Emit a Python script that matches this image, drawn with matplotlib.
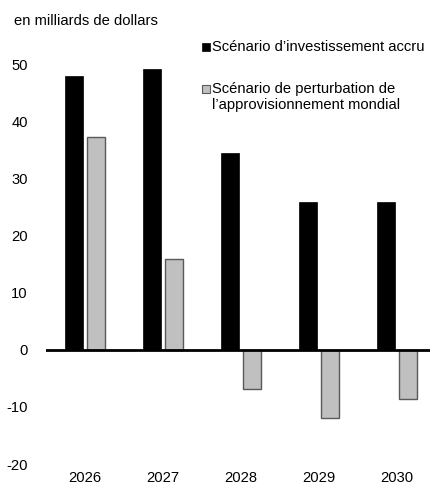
import matplotlib
matplotlib.use("Agg")
import matplotlib.pyplot as plt
from matplotlib.patches import Rectangle
import numpy as np

plt.rcParams['font.family'] = ['Liberation Sans', 'DejaVu Sans']

years = ["2026", "2027", "2028", "2029", "2030"]
investment = [47.9, 49.2, 34.5, 25.8, 25.9]
disruption = [37.3, 15.9, -6.9, -11.9, -8.7]
series_names = ["Scénario d’investissement accru",
                "Scénario de perturbation de",
                "l’approvisionnement mondial"]
yticks = [-20, -10, 0, 10, 20, 30, 40, 50]

W, H = 431, 487
FS = 10.6
fig = plt.figure(figsize=(W / 100, H / 100), dpi=100)
ax = fig.add_axes([46 / W, 23 / H, 385 / W, 400 / H])

x = np.arange(len(years))
w = 0.23
off = 0.141
ax.bar(x - off, investment, width=w, color="black", edgecolor="black", linewidth=0.5)
ax.bar(x + off, disruption, width=w, color="#c0c0c0", edgecolor="#595959", linewidth=1.0)

ax.set_xlim(-0.5, 4.44)
ax.set_ylim(-20, 50)
ax.set_yticks(yticks)
ax.set_yticklabels([str(v) for v in yticks], fontsize=FS)
ax.set_xticks(x)
ax.set_xticklabels(years, fontsize=FS)
ax.tick_params(axis="both", length=0)
ax.tick_params(axis="y", pad=13)
ax.tick_params(axis="x", pad=5)
for s in ax.spines.values():
    s.set_visible(False)
ax.axhline(0, color="black", linewidth=2, zorder=3)

def fy(py):
    return 1 - py / H

fig.text(14 / W, fy(21), "en milliards de dollars", fontsize=FS, va="center", ha="left")

# legend drawn as square swatches with text
sq = 8
fig.patches.append(Rectangle((202 / W, fy(47 + sq / 2)), sq / W, sq / H,
                             transform=fig.transFigure, facecolor="black",
                             edgecolor="black", linewidth=0.5))
fig.text(212 / W, fy(47), series_names[0], fontsize=FS, va="center", ha="left")
fig.patches.append(Rectangle((202 / W, fy(89 + sq / 2)), sq / W, sq / H,
                             transform=fig.transFigure, facecolor="#c0c0c0",
                             edgecolor="#595959", linewidth=0.8))
fig.text(212 / W, fy(89), series_names[1], fontsize=FS, va="center", ha="left")
fig.text(212 / W, fy(105), series_names[2], fontsize=FS, va="center", ha="left")

fig.savefig("out.png", dpi=100)
